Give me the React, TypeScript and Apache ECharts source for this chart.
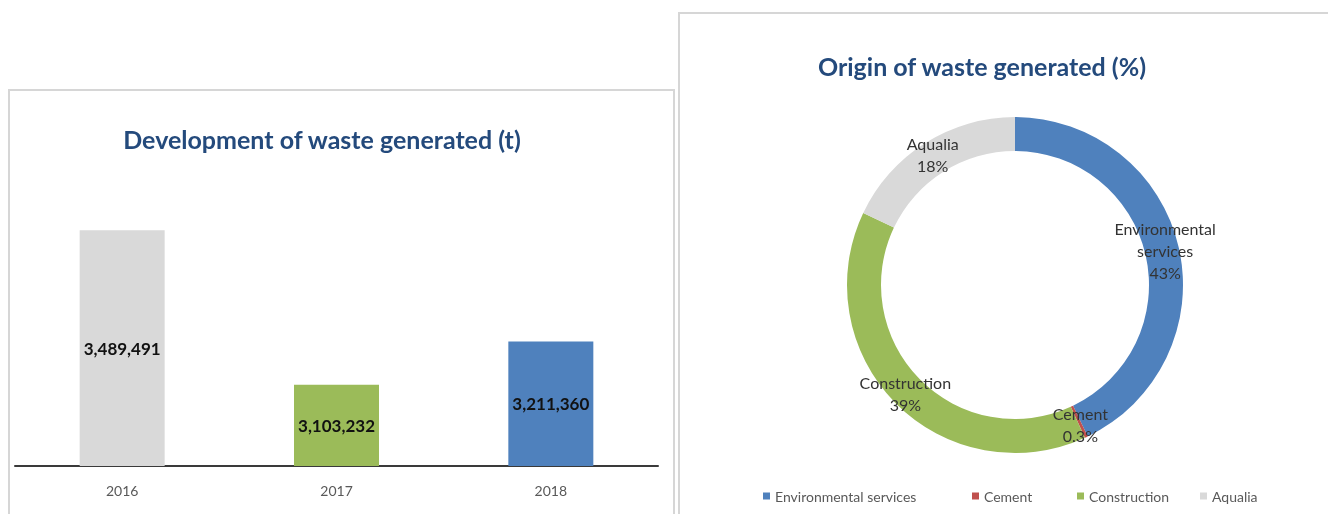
import React, { useEffect, useRef } from "react";
import * as echarts from "echarts";

const years = ["2016", "2017", "2018"];
const wasteTonnes = [3489491, 3103232, 3211360];
const barColors = ["#d9d9d9", "#9bbb59", "#4f81bd"];

const originNames = ["Environmental services", "Cement", "Construction", "Aqualia"];
const originValues = [43, 0.3, 39, 18];
const originLabels = ["Environmental\nservices\n43%", "Cement\n0.3%", "Construction\n39%", "Aqualia\n18%"];
const originColors = ["#4f81bd", "#c0504d", "#9bbb59", "#d9d9d9"];
const legendLeft = [763, 972, 1077, 1200];

const FONT = "Lato";

export default function App() {
  const ref = useRef<HTMLDivElement>(null);
  useEffect(() => {
    if (!ref.current) return;
    const chart = echarts.init(ref.current, undefined, { renderer: "svg" });
    chart.setOption({
      animation: false,
      textStyle: { fontFamily: FONT },
      graphic: [
        { type: "rect", shape: { x: 9, y: 90, width: 665, height: 440 }, style: { fill: "none", stroke: "#d6d6d6", lineWidth: 2 }, z: 0 },
        { type: "rect", shape: { x: 679, y: 13, width: 660, height: 520 }, style: { fill: "none", stroke: "#d6d6d6", lineWidth: 2 }, z: 0 },
      ],
      title: [
        {
          text: "Development of waste generated (t)",
          left: 317,
          top: 121,
          textAlign: "center",
          textStyle: { fontFamily: FONT, fontSize: 25, fontWeight: "bold", color: "#244a7c" },
        },
        {
          text: "Origin of waste generated (%)",
          left: 977,
          top: 48,
          textAlign: "center",
          textStyle: { fontFamily: FONT, fontSize: 25, fontWeight: "bold", color: "#244a7c" },
        },
      ],
      grid: { left: 15, right: 670, top: 226, bottom: 48, containLabel: false },
      xAxis: {
        type: "category",
        data: years,
        axisLine: { lineStyle: { color: "#3a3a3a", width: 2 } },
        axisTick: { show: false },
        axisLabel: { color: "#595959", fontSize: 14, margin: 17, fontFamily: FONT },
      },
      yAxis: {
        type: "value",
        min: 2900000,
        max: 3500000,
        show: false,
        splitLine: { show: false },
      },
      legend: originNames.map((n, i) => ({
        data: [n],
        left: legendLeft[i],
        top: 489,
        padding: 0,
        icon: "rect",
        itemWidth: 7,
        itemHeight: 7,
        textStyle: { color: "#595959", fontSize: 14, fontFamily: FONT },
      })),
      series: [
        {
          type: "bar",
          barWidth: 85,
          data: wasteTonnes.map((v, i) => ({ value: v, itemStyle: { color: barColors[i] } })),
          label: {
            show: true,
            position: "inside",
            color: "#111",
            fontWeight: "bold",
            fontSize: 17,
            fontFamily: FONT,
            formatter: (p: any) => Number(p.value).toLocaleString("en-US"),
          },
        },
        {
          type: "pie",
          center: [1015, 285],
          radius: [134, 168],
          startAngle: 90,
          clockwise: true,
          avoidLabelOverlap: false,
          data: originNames.map((n, i) => ({ name: n, value: originValues[i], itemStyle: { color: originColors[i] } })),
          label: {
            show: true,
            position: "inside",
            color: "#333",
            fontSize: 16,
            lineHeight: 22,
            fontFamily: FONT,
            formatter: (p: any) => originLabels[p.dataIndex],
          },
          labelLine: { show: false },
          emphasis: { disabled: true },
        },
      ],
    });
    return () => chart.dispose();
  }, []);
  return <div ref={ref} style={{ position: "fixed", left: 0, top: 0, width: 1328, height: 514 }} />;
}
